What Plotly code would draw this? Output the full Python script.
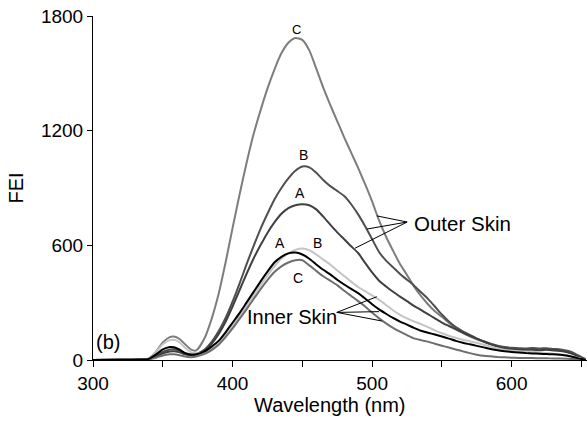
import plotly.graph_objects as go

wavelength = [300, 320, 335, 340, 345, 350, 355, 358, 362, 366, 370, 374,
              380, 385, 390, 395, 400, 405, 410, 415, 420, 425, 430, 435, 440, 445,
              450, 455, 460, 465, 470, 475, 480, 485, 490, 495, 500, 505, 510, 515,
              520, 525, 530, 535, 540, 545, 550, 555, 560, 565, 570, 575, 580, 585,
              590, 595, 600, 605, 610, 615, 620, 625, 630, 635, 640, 645, 650, 653]

outer_C = [0, 2, 3, 8, 42, 92, 120, 123, 110, 82, 56, 50,
           115, 215, 345, 510, 690, 865, 1030, 1180, 1305, 1420, 1520, 1605, 1660, 1685,
           1675, 1620, 1525, 1425, 1335, 1250, 1165, 1085, 1005, 920, 830, 730, 645, 572,
           502, 445, 385, 335, 292, 255, 226, 195, 165, 142, 124, 108, 95, 82,
           72, 63, 60, 58, 55, 57, 54, 56, 52, 50, 42, 30, 12, 3]

outer_B = [0, 1, 2, 5, 20, 42, 55, 56, 48, 35, 30, 32,
           55, 95, 150, 220, 305, 400, 500, 595, 685, 765, 840, 900, 950, 990,
           1012, 1008, 980, 942, 910, 885, 858, 815, 762, 700, 632, 565, 520, 485,
           450, 420, 390, 355, 320, 280, 238, 202, 172, 150, 132, 112, 98, 85,
           75, 68, 64, 62, 60, 63, 60, 62, 58, 55, 48, 35, 15, 4]

outer_A = [0, 1, 2, 4, 18, 35, 45, 46, 40, 30, 25, 28,
           50, 85, 135, 200, 280, 365, 450, 530, 600, 665, 720, 765, 795, 810,
           815, 810, 788, 750, 708, 668, 632, 595, 560, 508, 458, 415, 385, 357,
           332, 308, 283, 262, 240, 218, 196, 178, 160, 143, 127, 112, 97, 83,
           70, 60, 56, 54, 52, 54, 51, 53, 50, 47, 40, 28, 10, 2]

inner_A = [0, 1, 2, 6, 28, 55, 68, 67, 54, 36, 28, 30,
           45, 70, 100, 145, 195, 245, 300, 355, 410, 462, 510, 540, 558, 562,
           552, 530, 500, 472, 448, 420, 395, 372, 350, 322, 292, 265, 242, 220,
           201, 185, 168, 153, 143, 133, 123, 112, 100, 90, 82, 74, 66, 58,
           51, 46, 42, 39, 36, 34, 33, 31, 30, 27, 22, 14, 5, 1]

inner_B = [0, 1, 3, 8, 40, 82, 104, 106, 93, 64, 41, 35,
           40, 60, 88, 130, 178, 228, 282, 336, 390, 442, 490, 530, 558, 576,
           583, 575, 552, 525, 500, 468, 440, 410, 382, 360, 338, 315, 288, 260,
           236, 218, 202, 188, 172, 155, 140, 127, 116, 106, 98, 90, 80, 70,
           60, 53, 49, 46, 44, 42, 40, 36, 32, 29, 25, 16, 6, 1]

inner_C = [0, 1, 2, 4, 12, 24, 30, 30, 25, 18, 15, 18,
           32, 52, 80, 120, 165, 215, 265, 318, 370, 418, 460, 490, 510, 522,
           522, 495, 466, 438, 415, 392, 362, 335, 308, 280, 248, 218, 192, 168,
           148, 130, 113, 104, 96, 85, 75, 65, 55, 45, 36, 28, 22, 19,
           16, 14, 12, 11, 10, 10, 9, 9, 8, 8, 7, 5, 2, 0]

x_tickvals = [300, 350, 400, 450, 500, 550, 600, 650]
x_ticktext = ["300", "", "400", "", "500", "", "600", ""]
y_tickvals = [0, 600, 1200, 1800]

FONT = "Liberation Sans, Arial, sans-serif"

series = [
    ("Outer C", outer_C, "#7d7d7d"),
    ("Outer B", outer_B, "#4f4f4f"),
    ("Outer A", outer_A, "#404040"),
    ("Inner B", inner_B, "#c4c4c4"),
    ("Inner C", inner_C, "#6e6e6e"),
    ("Inner A", inner_A, "#000000"),
]

fig = go.Figure()
for name, ys, col in series:
    fig.add_trace(go.Scatter(x=wavelength, y=ys, mode="lines", name=name,
                             line=dict(color=col, width=2, shape="spline", smoothing=0.6),
                             showlegend=False))

def ann(x, y, text, size):
    fig.add_annotation(x=x, y=y, xref="x", yref="y", text=text, showarrow=False,
                       font=dict(family=FONT, size=size, color="black"))

ann(445.5, 1728, "C", 13)
ann(450.5, 1073, "B", 14)
ann(448.4, 874, "A", 14)
ann(434, 611, "A", 14)
ann(460.8, 611, "B", 14)
ann(447.2, 428, "C", 14)
ann(564.5, 716, "Outer Skin", 20.5)
ann(442.7, 227, "Inner Skin", 20)
ann(311, 94, "(b)", 20)

# x-axis title (placed slightly left of centre, as in the original)
fig.add_annotation(x=0.48, y=-0.131, xref="paper", yref="paper", yanchor="middle",
                   text="Wavelength (nm)", showarrow=False,
                   font=dict(family=FONT, size=20, color="black"))

outer_origin = (525.1, 722)
outer_targets = [(503.4, 754), (496.2, 685), (487.8, 585)]
inner_origin = (474.7, 249)
inner_targets = [(503.4, 331), (505.0, 253), (507.0, 204)]
for (ox, oy), tg in [(outer_origin, outer_targets), (inner_origin, inner_targets)]:
    for tx, ty in tg:
        fig.add_shape(type="line", xref="x", yref="y", x0=ox, y0=oy, x1=tx, y1=ty,
                      line=dict(color="black", width=1))

fig.update_layout(
    width=587, height=423,
    margin=dict(l=93, r=0, t=16, b=63),
    plot_bgcolor="white", paper_bgcolor="white",
    font=dict(family=FONT, size=19, color="black"),
    xaxis=dict(range=[300, 654], tickvals=x_tickvals, ticktext=x_ticktext,
               ticks="outside", ticklen=6, tickcolor="black", showline=True,
               linecolor="black", linewidth=1, showgrid=False, zeroline=False,
               tickfont=dict(size=19)),
    yaxis=dict(range=[0, 1800], tickvals=y_tickvals, ticks="outside", ticklen=5,
               tickcolor="black", showline=True, linecolor="black", linewidth=1,
               showgrid=False, zeroline=False,
               title=dict(text="FEI", standoff=11, font=dict(size=20)),
               tickfont=dict(size=19)),
)

fig.write_html("out.html")
